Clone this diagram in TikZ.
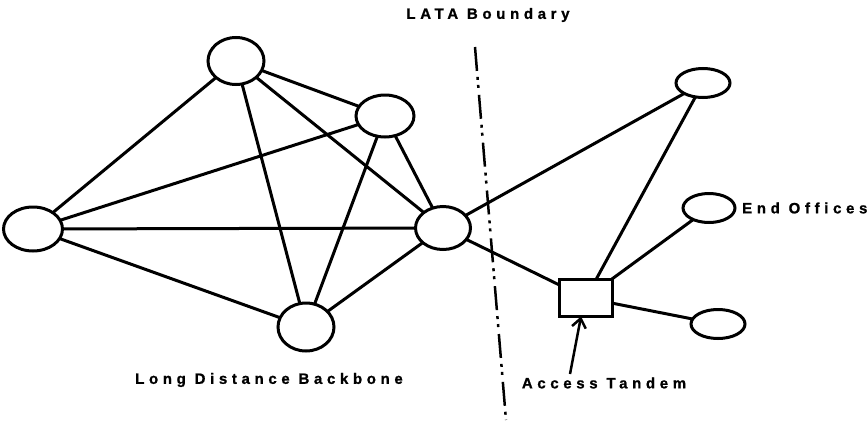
\documentclass[tikz,border=0pt]{standalone}
\usepackage{fontspec}
\setmainfont{Liberation Sans}
\newfontfamily\lblfont{Liberation Sans}[UprightFont={* Bold}, LetterSpace=31, FakeBold=1]
\usetikzlibrary{arrows.meta,shapes.geometric}
\begin{document}
\begin{tikzpicture}[x=1pt,y=-1pt,
  office/.style={draw, ellipse, line width=3pt, inner sep=0pt, outer sep=0pt},
  tandem/.style={draw, rectangle, line width=3pt, inner sep=0pt, outer sep=0pt, minimum width=53pt, minimum height=37pt},
  link/.style={line width=3pt},
  lbl/.style={font=\lblfont\fontsize{15}{17}\selectfont, inner sep=0pt},
  boundary/.style={line width=2.5pt, dash pattern=on 24pt off 6pt on 3pt off 5pt on 3pt off 7pt},
  pointer/.style={line width=2.5pt, -{Straight Barb[length=9pt,width=14pt,line width=2.5pt]}}]
\useasboundingbox (0,0) rectangle (867,423);
% backbone nodes
\node[office, minimum width=59pt, minimum height=44pt] (L)  at (33,229) {};
\node[office, minimum width=56pt, minimum height=47pt] (T)  at (236,61) {};
\node[office, minimum width=58pt, minimum height=42pt] (RU) at (385,116) {};
\node[office, minimum width=55pt, minimum height=43pt] (R)  at (443,228) {};
\node[office, minimum width=56pt, minimum height=48pt] (B)  at (306,327) {};
% end offices
\node[office, minimum width=54pt, minimum height=29pt] (E1) at (703,83) {};
\node[office, minimum width=52pt, minimum height=29pt] (E2) at (709,208) {};
\node[office, minimum width=54pt, minimum height=29pt] (E3) at (718,324) {};
% access tandem
\node[tandem] (AT) at (586,298) {};
% links
\draw[link] (L) -- (T);
\draw[link] (L) -- (RU);
\draw[link] (L) -- (R);
\draw[link] (L) -- (B);
\draw[link] (T) -- (RU);
\draw[link] (T) -- (R);
\draw[link] (T) -- (B);
\draw[link] (RU) -- (R);
\draw[link] (RU) -- (B);
\draw[link] (B) -- (R);
\draw[link] (R) -- (E1);
\draw[link] (R) -- (AT);
\draw[link] (AT) -- (E1);
\draw[link] (AT) -- (E2);
\draw[link] (AT) -- (E3);
% boundary
\coordinate (b1) at (475,47);
\coordinate (b2) at (506,420);
\draw[boundary] (b1) -- (b2);
% labels
\node[lbl] (lata) at (488,15) {LATA Boundary};
\node[lbl] (ldb) at (269,380) {Long Distance Backbone};
\node[lbl] (atl) at (604,383) {Access Tandem};
\node[lbl, anchor=west] (eol) at (742,208) {End Offices};
% pointer
\coordinate (atail) at (570,374);
\draw[pointer] (atail) -- ([xshift=-5pt]AT.south);
\end{tikzpicture}
\end{document}
